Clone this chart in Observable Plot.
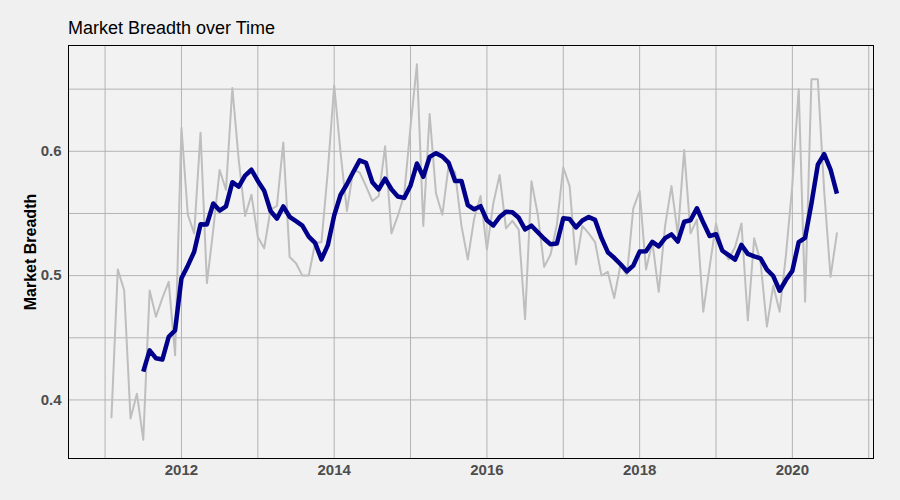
<!DOCTYPE html>
<html>
<head>
<meta charset="utf-8">
<script src="https://cdn.jsdelivr.net/npm/d3@7"></script>
<script src="https://cdn.jsdelivr.net/npm/@observablehq/plot@0.6"></script>
<style>
  html, body { margin: 0; padding: 0; background: #f0f0f0; }
  body { width: 900px; height: 500px; overflow: hidden; font-family: "Liberation Sans", Arial, sans-serif; }
  #title { position: relative; height: 40px; }
  #title span { position: absolute; left: 68px; top: 19px; font-size: 18px; line-height: 1; color: #000; white-space: nowrap; }
  #chart svg { display: block; }
</style>
</head>
<body>
<div id="title"><span>Market Breadth over Time</span></div>
<div id="chart"></div>
<script>
// Monthly market breadth, starting February 2011
const firstYear = 2011;
const firstMonth = 2; // February
const breadth = [
  0.386, 0.505, 0.488, 0.385, 0.405, 0.368, 0.488, 0.467, 0.482, 0.495, 0.436,
  0.619, 0.549, 0.534, 0.615, 0.494, 0.537, 0.585, 0.569, 0.651, 0.593, 0.548, 0.565,
  0.531, 0.522, 0.553, 0.556, 0.607, 0.515, 0.510, 0.500, 0.500, 0.526, 0.527, 0.584,
  0.653, 0.599, 0.552, 0.585, 0.583, 0.572, 0.560, 0.564, 0.604, 0.534, 0.548, 0.565,
  0.620, 0.670, 0.540, 0.630, 0.566, 0.549, 0.589, 0.583, 0.540, 0.513, 0.546, 0.564,
  0.521, 0.558, 0.581, 0.538, 0.544, 0.537, 0.465, 0.576, 0.549, 0.507, 0.517, 0.541,
  0.587, 0.572, 0.509, 0.540, 0.534, 0.527, 0.500, 0.503, 0.482, 0.509, 0.500, 0.554,
  0.568, 0.505, 0.527, 0.487, 0.540, 0.572, 0.533, 0.601, 0.534, 0.545, 0.471, 0.507,
  0.542, 0.521, 0.513, 0.523, 0.542, 0.464, 0.530, 0.511, 0.459, 0.492, 0.471, 0.517,
  0.573, 0.650, 0.479, 0.658, 0.658, 0.568, 0.499, 0.534
];
const windowMonths = 6;
const xTicks = [2012, 2014, 2016, 2018, 2020];
const xGrid = [2011, 2012, 2013, 2014, 2015, 2016, 2017, 2018, 2019, 2020, 2021];
const yTicks = [0.4, 0.5, 0.6];
const yGrid = [0.4, 0.45, 0.5, 0.55, 0.6, 0.65];

const data = breadth.map((v, i) => ({
  t: firstYear + (firstMonth - 1 + i) / 12,
  v
}));

const xExtent = [firstYear, data[data.length - 1].t];
const yExtent = d3.extent(breadth);
const pad = (e) => { const s = (e[1] - e[0]) * 0.05; return [e[0] - s, e[1] + s]; };

const tickFont = { fontSize: 15, fontWeight: "bold", fill: "#4d4d4d" };

const chart = Plot.plot({
  width: 900,
  height: 460,
  marginTop: 5,
  marginBottom: 42,
  marginLeft: 68,
  marginRight: 27,
  style: { background: "transparent", fontFamily: "Liberation Sans, Arial, sans-serif" },
  x: { domain: pad(xExtent), label: null },
  y: { domain: pad(yExtent), label: null },
  marks: [
    Plot.frame({ fill: "#f2f2f2", stroke: null }),
    Plot.gridX(xGrid, { stroke: "#b3b3b3", strokeOpacity: 1, strokeWidth: 1 }),
    Plot.gridY(yGrid, { stroke: "#b3b3b3", strokeOpacity: 1, strokeWidth: 1 }),
    Plot.lineY(data, { x: "t", y: "v", stroke: "#bebebe", strokeWidth: 2 }),
    Plot.lineY(data, Plot.windowY(
      { k: windowMonths, anchor: "end", strict: true, reduce: "mean" },
      { x: "t", y: "v", stroke: "#00008b", strokeWidth: 4.5, strokeLinejoin: "round", strokeLinecap: "butt" }
    )),
    Plot.frame({ stroke: "#000", strokeWidth: 1 }),
    Plot.axisX(xTicks, { tickSize: 0, tickPadding: 6, tickFormat: d => String(d), label: null, ...tickFont }),
    Plot.axisY(yTicks, { tickSize: 0, tickPadding: 7, tickFormat: d => d.toFixed(1), label: null, ...tickFont }),
    Plot.text(["Market Breadth"], {
      frameAnchor: "left", dx: -38, rotate: -90, textAnchor: "middle", lineAnchor: "middle",
      fontSize: 16, fontWeight: "bold", fill: "#000"
    })
  ]
});
document.getElementById("chart").appendChild(chart);
</script>
</body>
</html>
